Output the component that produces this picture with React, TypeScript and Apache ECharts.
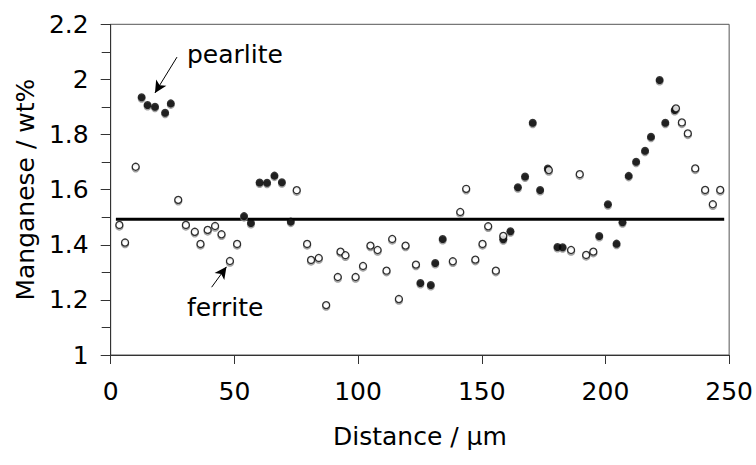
import React, { useEffect, useRef } from "react";
import * as echarts from "echarts";

// Distance (µm) and manganese (wt%)
const filledX = [12.5, 14.9, 17.9, 22.0, 24.3, 53.9, 56.7, 60.2, 63.2, 66.2, 69.2, 72.8, 125.2, 129.4, 131.2, 134.2, 158.7, 161.6, 164.6, 167.5, 170.6, 173.6, 176.7, 180.6, 182.7, 197.5, 201.0, 204.5, 206.9, 209.4, 212.4, 216.0, 218.4, 221.9, 224.2, 228.0];
const filledY = [1.935, 1.907, 1.901, 1.879, 1.913, 1.504, 1.479, 1.626, 1.625, 1.651, 1.627, 1.484, 1.261, 1.254, 1.334, 1.421, 1.42, 1.449, 1.609, 1.648, 1.843, 1.599, 1.677, 1.392, 1.391, 1.432, 1.547, 1.404, 1.482, 1.65, 1.701, 1.741, 1.792, 1.998, 1.843, 1.889];

const openX = [3.5, 5.8, 10.1, 27.3, 30.4, 34.0, 36.3, 39.2, 42.2, 44.8, 48.2, 51.1, 75.2, 79.4, 81.0, 84.1, 87.1, 91.8, 92.9, 94.9, 99.0, 102.0, 105.0, 107.9, 111.5, 113.8, 116.5, 119.2, 123.4, 138.3, 141.3, 143.7, 147.4, 150.3, 152.6, 155.7, 158.7, 177.1, 186.1, 189.6, 192.2, 195.1, 228.5, 230.9, 233.3, 236.3, 240.3, 243.4, 246.4];
const openY = [1.472, 1.408, 1.683, 1.563, 1.472, 1.447, 1.403, 1.454, 1.468, 1.438, 1.341, 1.403, 1.598, 1.403, 1.345, 1.352, 1.181, 1.283, 1.375, 1.362, 1.283, 1.323, 1.397, 1.381, 1.306, 1.421, 1.203, 1.397, 1.328, 1.34, 1.519, 1.603, 1.346, 1.403, 1.467, 1.306, 1.432, 1.671, 1.381, 1.656, 1.363, 1.375, 1.895, 1.844, 1.804, 1.677, 1.599, 1.547, 1.599];

// mean level line
const meanX = [2.1, 248];
const meanY = [1.493, 1.493];

// annotations (data coordinates)
const pearliteArrow = [[26.8, 2.081], [17.9, 1.951]];
const ferriteArrow = [[40.8, 1.246], [46.8, 1.32]];
const pearliteLabel = [30.8, 2.092];
const ferriteLabel = [30.8, 1.171];

const xTicks = { min: 0, max: 250, interval: 50 };
const yTicks = { min: 1, max: 2.2, interval: 0.2 };

const FONT = "DejaVu Sans";

export default function App() {
  const ref = useRef<HTMLDivElement>(null);
  useEffect(() => {
    if (!ref.current) return;
    const chart = echarts.init(ref.current, undefined, { renderer: "svg" });
    const filled = filledX.map((x, i) => [x, filledY[i]]);
    const open = openX.map((x, i) => [x, openY[i]]);
    const mean = meanX.map((x, i) => [x, meanY[i]]);
    chart.setOption({
      animation: false,
      backgroundColor: "#fff",
      textStyle: { fontFamily: FONT },
      grid: {
        left: 110.7,
        right: 26.3,
        top: 24.3,
        bottom: 110,
        show: true,
        borderColor: "#555",
        borderWidth: 1,
      },
      xAxis: {
        type: "value",
        min: xTicks.min,
        max: xTicks.max,
        interval: xTicks.interval,
        name: "Distance / µm",
        nameLocation: "middle",
        nameGap: 69,
        nameTextStyle: { fontSize: 25, color: "#000", fontFamily: FONT },
        axisLine: { show: true, onZero: false, lineStyle: { color: "#333", width: 1 } },
        axisTick: { show: true, length: 9, lineStyle: { color: "#333" } },
        axisLabel: { fontSize: 25, color: "#000", margin: 24, fontFamily: FONT },
        splitLine: { show: false },
      },
      yAxis: {
        type: "value",
        min: yTicks.min,
        max: yTicks.max,
        interval: yTicks.interval,
        name: "Manganese / wt%",
        nameLocation: "middle",
        nameRotate: 90,
        nameGap: 66,
        nameTextStyle: { fontSize: 25, color: "#000", fontFamily: FONT },
        axisLine: { show: true, onZero: false, lineStyle: { color: "#333", width: 1 } },
        axisTick: { show: true, length: 10, lineStyle: { color: "#333" } },
        minorTick: { show: true, splitNumber: 2, length: 9, lineStyle: { color: "#333" } },
        axisLabel: {
          fontSize: 25,
          color: "#000",
          margin: 22,
          fontFamily: FONT,
          formatter: (v: number) => String(Math.round(v * 10) / 10),
        },
        splitLine: { show: false },
        minorSplitLine: { show: false },
      },
      series: [
        {
          type: "line",
          data: mean,
          symbol: "none",
          lineStyle: { color: "#000", width: 3 },
          z: 1,
          silent: true,
        },
        {
          type: "scatter",
          data: filled,
          symbol: "circle",
          symbolSize: 8,
          symbolOffset: [0, 1.5],
          itemStyle: { color: "#8a8a8a" },
          z: 2,
        },
        {
          type: "scatter",
          data: open,
          symbol: "circle",
          symbolSize: 7,
          symbolOffset: [0, 1.5],
          itemStyle: { color: "#fff", borderColor: "#8a8a8a", borderWidth: 1.4 },
          z: 2,
        },
        {
          type: "scatter",
          data: filled,
          symbol: "circle",
          symbolSize: 8,
          itemStyle: { color: "#000" },
          z: 3,
        },
        {
          type: "scatter",
          data: open,
          symbol: "circle",
          symbolSize: 7,
          itemStyle: { color: "#fff", borderColor: "#000", borderWidth: 1.3 },
          z: 3,
          markLine: {
            silent: true,
            symbol: ["none", "arrow"],
            symbolSize: [9, 12],
            lineStyle: { color: "#000", width: 1, type: "solid" },
            label: { show: false },
            data: [
              [{ coord: pearliteArrow[0] }, { coord: pearliteArrow[1] }],
              [{ coord: ferriteArrow[0] }, { coord: ferriteArrow[1] }],
            ],
          },
          markPoint: {
            silent: true,
            symbol: "circle",
            symbolSize: 0,
            label: {
              show: true,
              position: "right",
              distance: 0,
              fontSize: 25,
              color: "#000",
              fontFamily: FONT,
              formatter: (p: any) => p.name,
            },
            data: [
              { name: "pearlite", coord: pearliteLabel },
              { name: "ferrite", coord: ferriteLabel },
            ],
          },
        },
      ],
    });
    return () => chart.dispose();
  }, []);
  return (
    <div
      ref={ref}
      style={{ position: "fixed", left: 0, top: 0, width: 756, height: 465, background: "#fff" }}
    />
  );
}
